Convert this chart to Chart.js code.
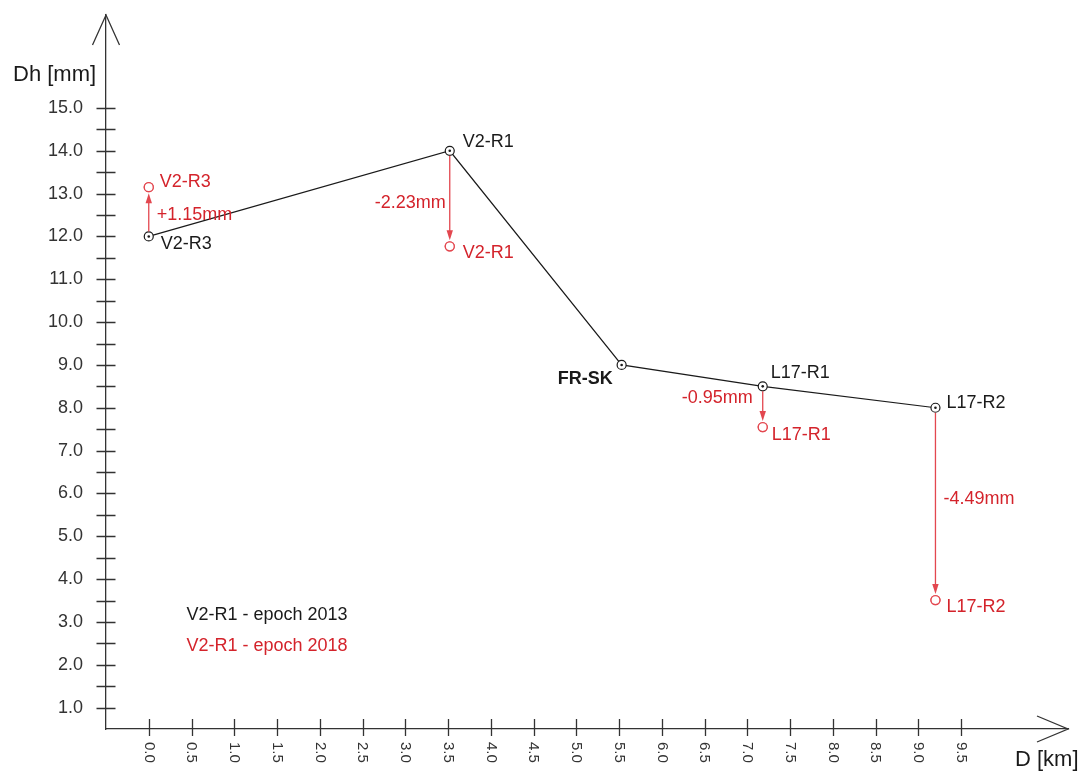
<!DOCTYPE html>
<html>
<head>
<meta charset="utf-8">
<title>Dh profile - epochs 2013 / 2018</title>
<script src="https://cdn.jsdelivr.net/npm/chart.js@4.4.1/dist/chart.umd.min.js"></script>
<style>
  html, body { margin: 0; padding: 0; background: #ffffff; }
  #wrap { width: 1081px; height: 771px; position: relative; }
</style>
</head>
<body>
<div id="wrap"><canvas id="profile" width="1081" height="771"></canvas></div>
<script>
// Levelling line stations, chainage along the line and height differences
const stations = ['V2-R3', 'V2-R1', 'FR-SK', 'L17-R1', 'L17-R2'];
const distanceKm = [0.0, 3.52, 5.53, 7.18, 9.2];
const dh2013 = [12.0, 14.0, 9.0, 8.5, 8.0];
// change between the epochs in mm (FR-SK is the fixed reference point)
const change2018 = [1.15, -2.23, null, -0.95, -4.49];

// axis ticks
const xTickValues = [0.0, 0.5, 1.0, 1.5, 2.0, 2.5, 3.0, 3.5, 4.0, 4.5, 5.0, 5.5, 6.0, 6.5, 7.0, 7.5, 8.0, 8.5, 9.0, 9.5];
const xTickLabels = ['0.0', '0.5', '1.0', '1.5', '2.0', '2.5', '3.0', '3.5', '4.0', '4.5', '5.0', '5.5', '6.0', '6.5', '7.0', '7.5', '8.0', '8.5', '9.0', '9.5'];
const yTickValues = [1.0, 1.5, 2.0, 2.5, 3.0, 3.5, 4.0, 4.5, 5.0, 5.5, 6.0, 6.5, 7.0, 7.5, 8.0, 8.5, 9.0, 9.5, 10.0, 10.5, 11.0, 11.5, 12.0, 12.5, 13.0, 13.5, 14.0, 14.5, 15.0];
const yTickLabels = ['1.0', '', '2.0', '', '3.0', '', '4.0', '', '5.0', '', '6.0', '', '7.0', '', '8.0', '', '9.0', '', '10.0', '', '11.0', '', '12.0', '', '13.0', '', '14.0', '', '15.0'];

const legendLines = ['V2-R1 - epoch 2013', 'V2-R1 - epoch 2018'];

// 2018 heights follow directly from the stated changes
const dh2018 = dh2013.map((h, i) => change2018[i] === null ? null : Number((h + change2018[i]).toFixed(2)));
const changeText = change2018.map(c => c === null ? null : (c > 0 ? '+' : '') + c.toFixed(2) + 'mm');

// label placement (pixel offsets from the marker they belong to)
const labelLayout2013 = [
  { align: 'left', dx: 12, dy: 8 },
  { align: 'left', dx: 13, dy: -9 },
  { align: 'right', dx: -9, dy: 14, bold: true },
  { align: 'left', dx: 8, dy: -13 },
  { align: 'left', dx: 11, dy: -5 }
];
const labelLayout2018 = [
  { align: 'left', dx: 11, dy: -5 },
  { align: 'left', dx: 13, dy: 7 },
  null,
  { align: 'left', dx: 9, dy: 8 },
  { align: 'left', dx: 11, dy: 7 }
];
const changeLayout = [
  { align: 'left', dx: 8, dy: 3 },
  { align: 'right', dx: -4, dy: 4 },
  null,
  { align: 'right', dx: -10, dy: -9 },
  { align: 'left', dx: 8, dy: -5 }
];

const FONT = '"Liberation Sans", Arial, Helvetica, sans-serif';
const INK = '#1a1a1a';
const AXIS = '#333333';
const RED_TEXT = '#d4232b';
const RED_LINE = '#e3474f';

const points2013 = distanceKm.map((x, i) => ({ x: x, y: dh2013[i] }));
const points2018 = distanceKm.map((x, i) => ({ x: x, y: dh2018[i] })).filter(p => p.y !== null);

function text(ctx, str, x, y, color, size, align, bold) {
  ctx.save();
  ctx.font = (bold ? 'bold ' : '') + size + 'px ' + FONT;
  ctx.fillStyle = color;
  ctx.textAlign = align;
  ctx.textBaseline = 'middle';
  ctx.fillText(str, x, y);
  ctx.restore();
}

const profileDecor = {
  id: 'profileDecor',
  afterDatasetsDraw(chart) {
    const ctx = chart.ctx;
    const xs = chart.scales.x, ys = chart.scales.y;
    const area = chart.chartArea;
    const x0 = area.left, y0 = area.bottom;

    ctx.save();
    ctx.strokeStyle = AXIS;
    ctx.lineWidth = 1.3;

    // arrow heads of both axes
    ctx.beginPath();
    ctx.moveTo(x0 - 13.5, area.top + 30);
    ctx.lineTo(x0, area.top);
    ctx.lineTo(x0 + 13.5, area.top + 30);
    ctx.moveTo(area.right - 31, y0 - 13);
    ctx.lineTo(area.right, y0);
    ctx.lineTo(area.right - 31, y0 + 13);
    ctx.stroke();

    // tick marks crossing the axes
    ctx.beginPath();
    yTickValues.forEach(v => {
      const py = Math.round(ys.getPixelForValue(v)) + 0.5;
      ctx.moveTo(x0 - 9.5, py);
      ctx.lineTo(x0 + 9.5, py);
    });
    xTickValues.forEach(v => {
      const px = Math.round(xs.getPixelForValue(v)) + 0.5;
      ctx.moveTo(px, y0 - 10);
      ctx.lineTo(px, y0 + 7);
    });
    ctx.stroke();
    ctx.restore();

    // x tick labels, turned a quarter clockwise
    ctx.save();
    ctx.font = '15px ' + FONT;
    ctx.fillStyle = AXIS;
    ctx.textAlign = 'left';
    ctx.textBaseline = 'middle';
    xTickValues.forEach((v, i) => {
      ctx.save();
      ctx.translate(xs.getPixelForValue(v), y0 + 13);
      ctx.rotate(Math.PI / 2);
      ctx.fillText(xTickLabels[i], 0, 0);
      ctx.restore();
    });
    ctx.restore();

    // axis titles
    text(ctx, 'Dh [mm]', 13, 75, INK, 22, 'left');
    text(ctx, 'D [km]', 1015, 760, INK, 22, 'left');

    const m13 = chart.getDatasetMeta(0).data;

    // displacement arrows 2013 -> 2018
    ctx.save();
    ctx.strokeStyle = RED_LINE;
    ctx.fillStyle = RED_LINE;
    ctx.lineWidth = 1.3;
    distanceKm.forEach((d, i) => {
      if (change2018[i] === null) return;
      const px = m13[i].x;
      const pyA = m13[i].y;
      const pyB = ys.getPixelForValue(dh2018[i]);
      const dir = pyB > pyA ? 1 : -1;
      const start = pyA + dir * 5;
      const tip = pyB - dir * 6;
      ctx.beginPath();
      ctx.moveTo(px, start);
      ctx.lineTo(px, tip - dir * 7);
      ctx.stroke();
      ctx.beginPath();
      ctx.moveTo(px, tip);
      ctx.lineTo(px - 3.2, tip - dir * 10);
      ctx.lineTo(px + 3.2, tip - dir * 10);
      ctx.closePath();
      ctx.fill();
    });
    ctx.restore();

    // 2018 markers drawn again on top of the arrows
    const m18 = chart.getDatasetMeta(1).data;
    m18.forEach(el => el.draw(ctx, area));

    // centre dots of the 2013 markers
    ctx.save();
    ctx.fillStyle = INK;
    m13.forEach(el => {
      ctx.beginPath();
      ctx.arc(el.x, el.y, 1.3, 0, Math.PI * 2);
      ctx.fill();
    });
    ctx.restore();

    // station names and changes
    stations.forEach((name, i) => {
      const px = m13[i].x, py = m13[i].y;
      const l = labelLayout2013[i];
      text(ctx, name, px + l.dx, py + l.dy, INK, 18, l.align, l.bold);
      if (change2018[i] !== null) {
        const pyB = ys.getPixelForValue(dh2018[i]);
        const r = labelLayout2018[i];
        text(ctx, name, px + r.dx, pyB + r.dy, RED_TEXT, 18, r.align);
        const c = changeLayout[i];
        text(ctx, changeText[i], px + c.dx, (py + pyB) / 2 + c.dy, RED_TEXT, 18, c.align);
      }
    });

    // epoch key
    const lx = xs.getPixelForValue(0.44);
    const ly = ys.getPixelForValue(3.16);
    text(ctx, legendLines[0], lx, ly, INK, 18, 'left');
    text(ctx, legendLines[1], lx, ly + 31, RED_TEXT, 18, 'left');
  }
};

new Chart(document.getElementById('profile'), {
  type: 'scatter',
  data: {
    datasets: [
      {
        label: 'epoch 2013',
        data: points2013,
        showLine: true,
        borderColor: INK,
        borderWidth: 1.2,
        tension: 0,
        pointRadius: 4.5,
        pointBorderWidth: 1.2,
        pointBackgroundColor: '#ffffff',
        pointBorderColor: INK
      },
      {
        label: 'epoch 2018',
        data: points2018,
        showLine: false,
        pointRadius: 4.5,
        pointBorderWidth: 1.3,
        pointBackgroundColor: '#ffffff',
        pointBorderColor: RED_LINE
      }
    ]
  },
  options: {
    responsive: false,
    animation: false,
    devicePixelRatio: 1,
    layout: { padding: { left: 0, right: 13, top: 15, bottom: 0 } },
    plugins: { legend: { display: false }, tooltip: { enabled: false } },
    scales: {
      x: {
        type: 'linear',
        min: -0.5,
        max: 10.75,
        grid: { display: false },
        border: { display: true, color: AXIS, width: 1.3 },
        ticks: { display: false },
        afterBuildTicks: s => { s.ticks = xTickValues.map(v => ({ value: v })); },
        afterFit: s => { s.height = 42; s.paddingLeft = 0; s.paddingRight = 0; }
      },
      y: {
        type: 'linear',
        min: 0.5,
        max: 17.17,
        grid: { display: false },
        border: { display: true, color: AXIS, width: 1.3 },
        ticks: {
          padding: 15,
          color: AXIS,
          font: { family: FONT, size: 18 },
          callback: (v, i) => yTickLabels[i]
        },
        afterBuildTicks: s => { s.ticks = yTickValues.map(v => ({ value: v })); },
        afterFit: s => { s.width = 106; s.paddingTop = 0; s.paddingBottom = 0; }
      }
    }
  },
  plugins: [profileDecor]
});
</script>
</body>
</html>
